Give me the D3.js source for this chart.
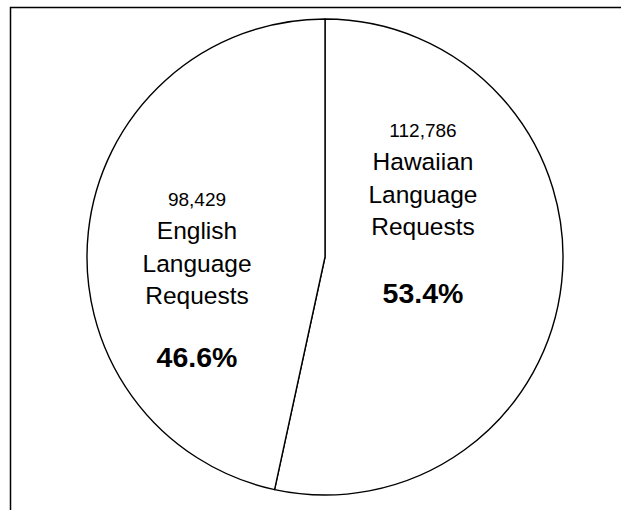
<!DOCTYPE html>
<html>
<head>
<meta charset="utf-8">
<script src="https://cdn.jsdelivr.net/npm/d3@7"></script>
<style>
  html, body { margin: 0; padding: 0; background: #fff; }
  svg { display: block; }
</style>
</head>
<body>
<svg id="chart" width="621" height="510"></svg>
<script>
const categories = ["Hawaiian", "English"];
const requests = [112786, 98429];
const labelLines = ["Language", "Requests"];

const width = 621,
  height = 510;
const cx = 325,
  cy = 257,
  radius = 238;

// label block positions relative to pie centre (first baseline)
const labelOffsets = [
  [98, -120],
  [-128, -51],
];

const svg = d3.select("#chart");

// chart frame (right and bottom edges fall outside the picture)
svg
  .append("rect")
  .attr("x", 10.5)
  .attr("y", 7.5)
  .attr("width", 800)
  .attr("height", 800)
  .attr("fill", "none")
  .attr("stroke", "black")
  .attr("stroke-width", 1.5);

const total = d3.sum(requests);
const data = categories.map((c, i) => ({ name: c, value: requests[i] }));

const pie = d3
  .pie()
  .sort(null)
  .value((d) => d.value)
  .startAngle(0)
  .endAngle(2 * Math.PI);

const arc = d3.arc().innerRadius(0).outerRadius(radius);

const g = svg.append("g").attr("transform", `translate(${cx},${cy})`);

g.selectAll("path")
  .data(pie(data))
  .join("path")
  .attr("d", arc)
  .attr("fill", "white")
  .attr("stroke", "black")
  .attr("stroke-width", 1.4)
  .attr("stroke-linejoin", "round");

const fmt = d3.format(",");
const pct = d3.format(".1%");

const labels = g
  .selectAll("text.label")
  .data(data)
  .join("text")
  .attr("class", "label")
  .attr("x", (d, i) => labelOffsets[i][0])
  .attr("y", (d, i) => labelOffsets[i][1])
  .attr("font-family", "Arial, 'Liberation Sans', sans-serif")
  .attr("text-anchor", "middle")
  .attr("fill", "black");

labels.each(function (d, i) {
  const t = d3.select(this);
  const x = labelOffsets[i][0];
  t.append("tspan").attr("x", x).attr("dy", 0).attr("font-size", 19).text(fmt(d.value));
  t.append("tspan").attr("x", x).attr("dy", 32.5).attr("font-size", 24.5).text(d.name);
  t.append("tspan").attr("x", x).attr("dy", 33).attr("font-size", 24.5).text(labelLines[0]);
  t.append("tspan").attr("x", x).attr("dy", 32).attr("font-size", 24.5).text(labelLines[1]);
  t.append("tspan")
    .attr("x", x)
    .attr("dy", i === 0 ? 68 : 63)
    .attr("font-size", 28.5)
    .attr("font-weight", "bold")
    .text(pct(d.value / total));
});
</script>
</body>
</html>
